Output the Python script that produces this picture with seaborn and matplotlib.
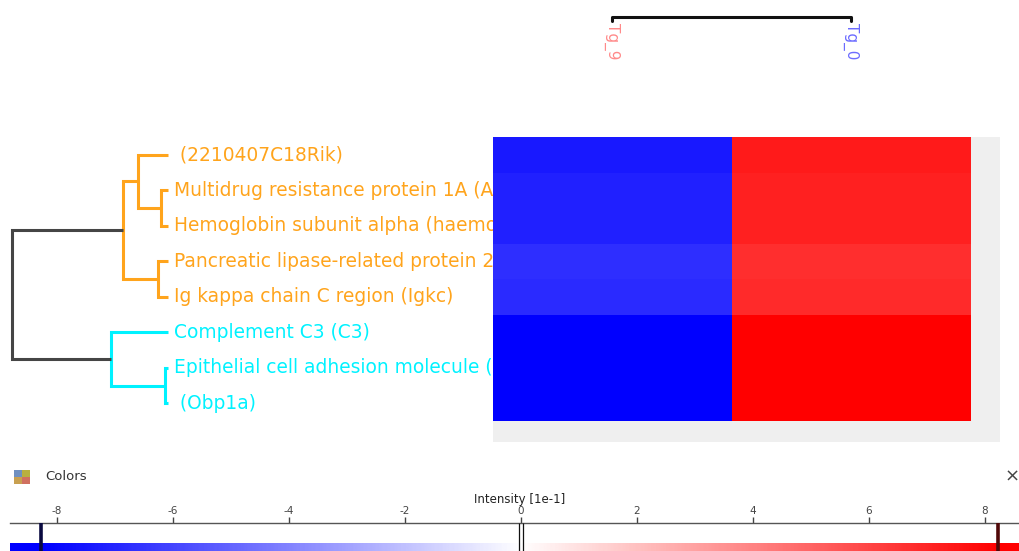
import numpy as np
import pandas as pd
import seaborn as sns
import matplotlib
matplotlib.use("Agg")
import matplotlib.pyplot as plt
from matplotlib.colors import LinearSegmentedColormap
from matplotlib.patches import Rectangle

# ---- data -------------------------------------------------------------
proteins = [
    " (2210407C18Rik)",
    "Multidrug resistance protein 1A (Abcb1a)",
    "Hemoglobin subunit alpha (haemoglobin alpha)",
    "Pancreatic lipase-related protein 2 (Pnliprp2)",
    "Ig kappa chain C region (Igkc)",
    "Complement C3 (C3)",
    "Epithelial cell adhesion molecule (Epcam)",
    " (Obp1a)",
]
samples = ["Tg_9", "Tg_0"]
tg9_values = [-0.745, -0.720, -0.720, -0.675, -0.690, -0.827, -0.827, -0.827]
tg0_values = [0.742, 0.718, 0.718, 0.672, 0.688, 0.823, 0.823, 0.823]

# row tree: (left child, right child, merge height); leaves are 0..7,
# merged clusters are numbered from 8 upward in order of creation
row_merges = [
    (6, 7, 0.019),
    (1, 2, 0.045),
    (3, 4, 0.064),
    (0, 9, 0.192),
    (11, 10, 0.288),
    (5, 8, 0.365),
    (12, 13, 1.000),
]
row_clusters = ["orange", "orange", "orange", "orange", "orange",
                "cyan", "cyan", "cyan"]
col_merge_height = 1.0

colorbar_ticks = [-8, -6, -4, -2, 0, 2, 4, 6, 8]

# ---- styling ------------------------------------------------------------
W, H = 1020, 551
ORANGE = "#ffa41c"
CYAN = "#00f2ff"
ROOT = "#454545"
cluster_color = {"orange": ORANGE, "cyan": CYAN}

sns.set_style("white")
plt.rcParams["font.family"] = ["DejaVu Sans"]

fig = plt.figure(figsize=(W / 100, H / 100), dpi=100)


def px_rect(x0, y0, x1, y1):
    return [x0 / W, 1 - y1 / H, (x1 - x0) / W, (y1 - y0) / H]


# grey panel behind the heatmap
ax_bg = fig.add_axes(px_rect(493, 137, 1000, 442), zorder=-5)
ax_bg.set_facecolor("#efefef")
ax_bg.set_xticks([])
ax_bg.set_yticks([])
for sp in ax_bg.spines.values():
    sp.set_visible(False)

# ---- heatmap ------------------------------------------------------------
df = pd.DataFrame({samples[0]: tg9_values, samples[1]: tg0_values},
                  index=proteins)
cmap = LinearSegmentedColormap.from_list("bwr_pure", ["#0000ff", "#ffffff", "#ff0000"])
vlim = 0.827
ax_hm = fig.add_axes(px_rect(493, 137, 971, 421), zorder=5)
sns.heatmap(df, ax=ax_hm, cmap=cmap, vmin=-vlim, vmax=vlim, cbar=False,
            xticklabels=False, yticklabels=False, linewidths=0)
ax_hm.set_xlabel("")
ax_hm.set_ylabel("")

# ---- row dendrogram + labels -------------------------------------------
n = len(proteins)
leaf_px, root_px = 168, 12
scale = leaf_px - root_px
ax_dr = fig.add_axes(px_rect(10, 137, 493, 421), zorder=1)
ax_dr.set_xlim((leaf_px - 10) / scale, (leaf_px - 493) / scale)
ax_dr.set_ylim(n, 0)
ax_dr.axis("off")

pos = {i: i + 0.5 for i in range(n)}
hgt = {i: 0.0 for i in range(n)}
members = {i: [i] for i in range(n)}
for k, (a, b, h) in enumerate(row_merges):
    node = n + k
    cols = {row_clusters[m] for m in members[a] + members[b]}
    color = cluster_color[cols.pop()] if len(cols) == 1 else ROOT
    ax_dr.plot([hgt[a], h, h, hgt[b]], [pos[a], pos[a], pos[b], pos[b]],
               color=color, lw=2.2, solid_capstyle="butt", solid_joinstyle="miter")
    pos[node] = (pos[a] + pos[b]) / 2
    hgt[node] = h
    members[node] = members[a] + members[b]

label_x = -(174 - leaf_px) / scale
for i, name in enumerate(proteins):
    ax_dr.text(label_x, i + 0.5, name, color=cluster_color[row_clusters[i]],
               fontsize=13.4, va="center", ha="left", clip_on=True)

# ---- column dendrogram + labels ----------------------------------------
ax_dc = fig.add_axes(px_rect(493, 15, 971, 21))
ax_dc.set_xlim(0, len(samples))
ax_dc.set_ylim(0, 1.5)
ax_dc.axis("off")
ax_dc.plot([0.5, 0.5, 1.5, 1.5], [0, col_merge_height, col_merge_height, 0],
           color="#111111", lw=2.2, clip_on=False)
for j, (s, c) in enumerate(zip(samples, ["#ff8a8a", "#6b6bff"])):
    ax_dc.text(j + 0.5, -0.5, s, color=c, fontsize=11, rotation=270,
               ha="center", va="top", clip_on=False)

# ---- color scale panel --------------------------------------------------
fig.text(45 / W, 1 - 477 / H, "Colors", fontsize=9.5, color="#333333",
         va="center", ha="left")
fig.text(1012 / W, 1 - 477 / H, "×", fontsize=13, color="#444444",
         va="center", ha="center")
icon_colors = ["#c8a050", "#d07060", "#7090c0", "#b8b040"]
for k, ic in enumerate(icon_colors):
    fig.patches.append(Rectangle(((14 + (k % 2) * 8) / W, 1 - (484 - (k // 2) * 7) / H),
                                 8 / W, 7 / H, transform=fig.transFigure,
                                 facecolor=ic, edgecolor="none"))
fig.text(520 / W, 1 - 500 / H, "Intensity [1e-1]", fontsize=8.5,
         color="#222222", va="center", ha="center")

ax_cb = fig.add_axes(px_rect(10, 523, 1020, 551))
x_lo, x_hi = (10 - 521) / 58, (1020 - 521) / 58
ax_cb.set_xlim(x_lo, x_hi)
ax_cb.set_ylim(0, 1)
grad = np.linspace(x_lo, x_hi, 600)[None, :] / 10
ax_cb.imshow(grad, cmap=cmap, vmin=-vlim, vmax=vlim, aspect="auto",
             extent=[x_lo, x_hi, 0, 0.28], zorder=1)
for side in ["left", "right", "bottom"]:
    ax_cb.spines[side].set_visible(False)
ax_cb.spines["top"].set_color("#555555")
ax_cb.spines["top"].set_linewidth(1.0)
ax_cb.set_yticks([])
ax_cb.xaxis.set_ticks_position("top")
ax_cb.set_xticks(colorbar_ticks)
ax_cb.set_xticklabels([str(t) for t in colorbar_ticks])
ax_cb.tick_params(axis="x", direction="out", length=4, width=1, pad=1,
                  labelsize=7.5, colors="#444444")
data_min = min(tg9_values + tg0_values) * 10
data_max = max(tg9_values + tg0_values) * 10
ax_cb.vlines([data_min], 0, 1, color="#0a0a40", lw=2.6, zorder=3)
ax_cb.vlines([data_max], 0, 1, color="#500808", lw=2.6, zorder=3)
ax_cb.vlines([-0.03, 0.03], 0, 1, color="#111111", lw=0.9, zorder=3)

fig.savefig("out.png", dpi=100)
